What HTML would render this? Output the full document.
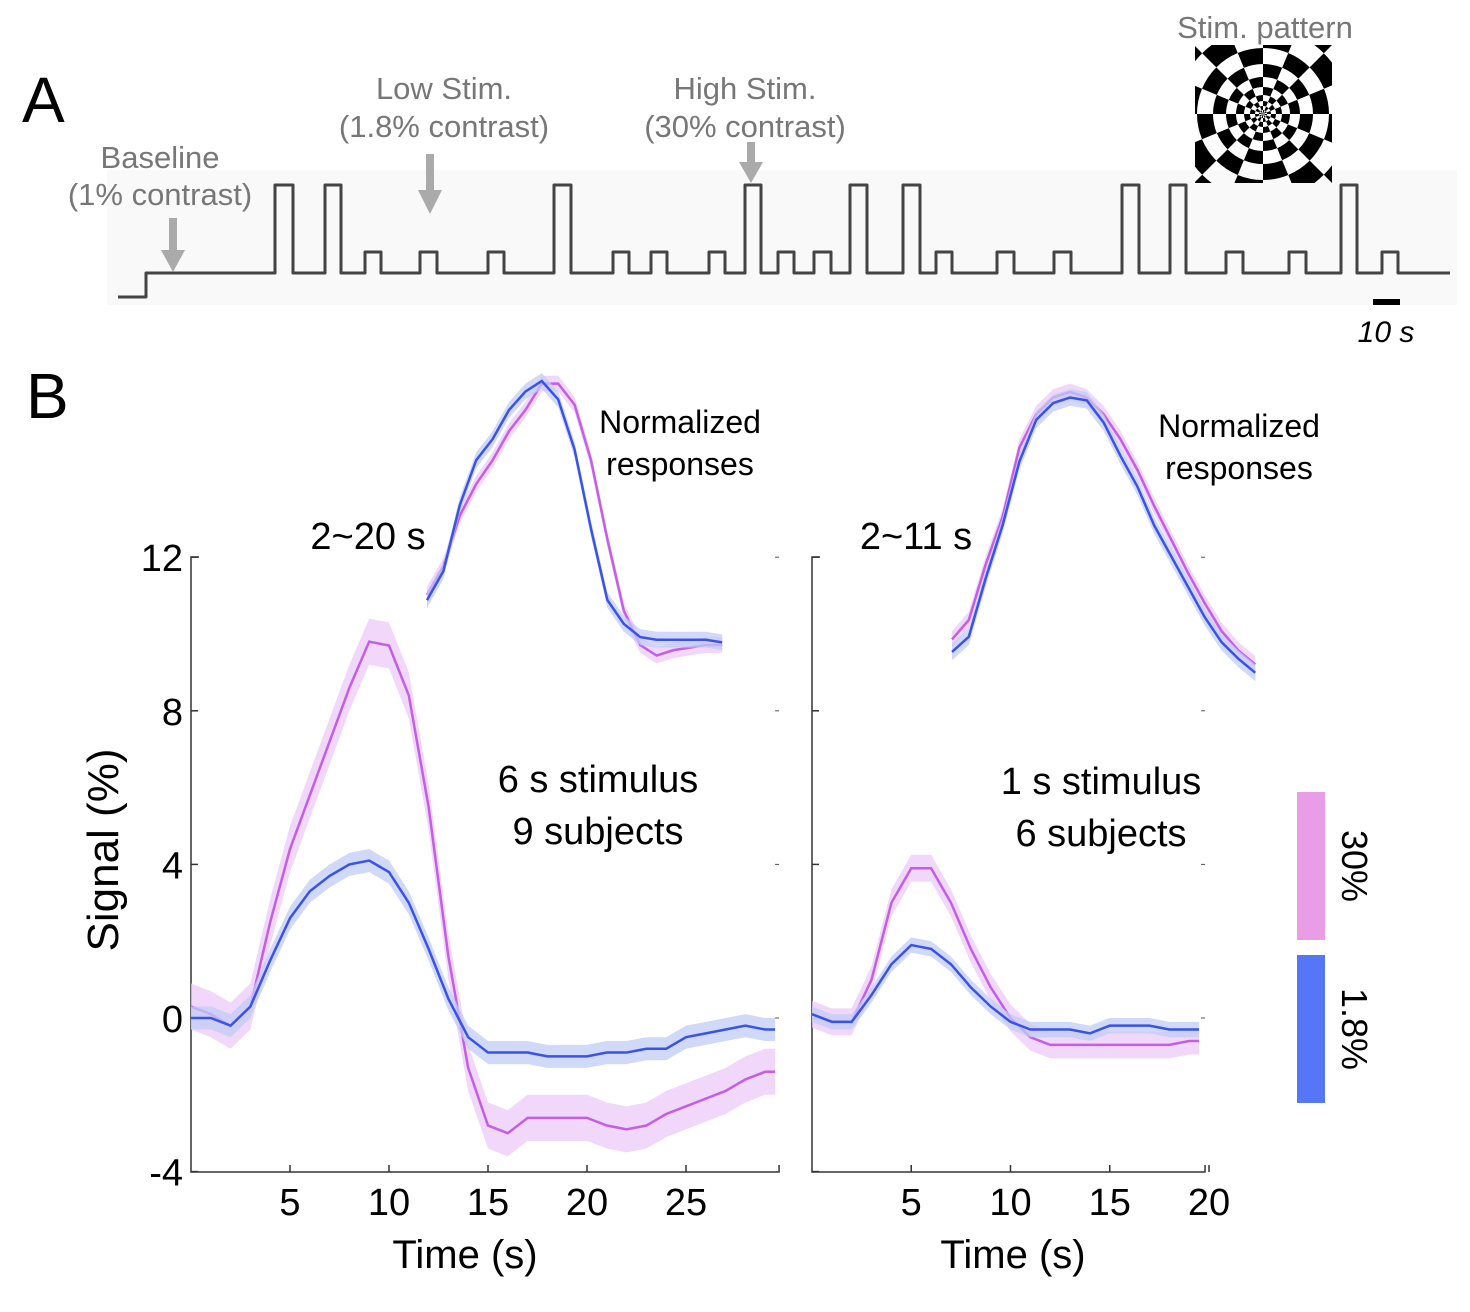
<!DOCTYPE html>
<html><head><meta charset="utf-8"><style>
body{margin:0;background:#fff;}
svg{display:block;font-family:"Liberation Sans",Arial,sans-serif;}
</style></head><body>
<svg id="fig" width="1470" height="1312" viewBox="0 0 1470 1312">
<defs><clipPath id="sq"><rect x="1195" y="45" width="137" height="138"/></clipPath></defs>
<text x="22" y="122" font-size="64">A</text>
<text x="26" y="418" font-size="64">B</text>
<rect x="107" y="170" width="1350" height="135" fill="#f9f9f9"/>
<g id="protocol"></g>
<g fill="#777" font-size="31" text-anchor="middle">
<text x="160" y="168">Baseline</text>
<text x="160" y="205">(1% contrast)</text>
<text x="444" y="99">Low Stim.</text>
<text x="444" y="137">(1.8% contrast)</text>
<text x="745" y="99">High Stim.</text>
<text x="745" y="137">(30% contrast)</text>
<text x="1265" y="38">Stim. pattern</text>
</g>
<g fill="#aaa" stroke="none">
<rect x="169" y="218" width="8" height="36"/><polygon points="161,250 185,250 173,272"/>
<rect x="426" y="154" width="8" height="40"/><polygon points="418,190 442,190 430,214"/>
<rect x="747" y="142" width="8" height="22"/><polygon points="739,162 763,162 751,183"/>
</g>
<g id="checker" clip-path="url(#sq)"></g>
<rect x="1373" y="299" width="27" height="6" fill="#000"/>
<text x="1386" y="342" font-size="30" font-style="italic" text-anchor="middle">10 s</text>
<g id="left"></g>
<g id="right"></g>
<text transform="translate(118,850) rotate(-90)" font-size="44" text-anchor="middle">Signal (%)</text>
<text x="465" y="1268" font-size="40" text-anchor="middle">Time (s)</text>
<text x="1013" y="1268" font-size="40" text-anchor="middle">Time (s)</text>
<text x="368" y="549" font-size="38" text-anchor="middle">2~20 s</text>
<text x="916" y="549" font-size="38" text-anchor="middle">2~11 s</text>
<g font-size="32" text-anchor="middle">
<text x="680" y="433">Normalized</text>
<text x="680" y="475">responses</text>
<text x="1239" y="437">Normalized</text>
<text x="1239" y="479">responses</text>
</g>
<g font-size="38" text-anchor="middle">
<text x="598" y="792">6 s stimulus</text>
<text x="598" y="844">9 subjects</text>
<text x="1101" y="794">1 s stimulus</text>
<text x="1101" y="846">6 subjects</text>
</g>
<rect x="1297" y="792" width="28" height="148" fill="#e89de6"/>
<rect x="1297" y="955" width="28" height="148" fill="#5577f7"/>
<text transform="translate(1342,866) rotate(90)" font-size="36" text-anchor="middle">30%</text>
<text transform="translate(1342,1029) rotate(90)" font-size="36" text-anchor="middle">1.8%</text>
</svg>
<script>
const NS="http://www.w3.org/2000/svg";
const pulseStarts=[275,325,365,420,488,554,613,651,709,745,778,814,850,903,936,997,1054,1122,1170,1226,1289,1341,1382];
const pulseEnds=[293,341,381,437,504,571,629,667,725,761,794,831,867,920,952,1014,1071,1139,1186,1243,1306,1357,1398];
const pulseHigh=[1,1,0,0,0,1,0,0,0,1,0,0,1,1,0,0,0,1,1,0,0,1,0];
const leftTimes=[0,1,2,3,4,5,6,7,8,9,10,11,12,13,14,15,16,17,18,19,20,21,22,23,24,25,26,27,28,29,29.5];
const leftHigh=[0.3,0.1,-0.2,0.3,2.5,4.4,5.8,7.2,8.6,9.8,9.7,8.4,5.5,1.6,-1.3,-2.8,-3.0,-2.6,-2.6,-2.6,-2.6,-2.8,-2.9,-2.8,-2.5,-2.3,-2.1,-1.9,-1.6,-1.4,-1.4];
const leftLow=[0,0,-0.2,0.3,1.5,2.6,3.3,3.7,4.0,4.1,3.8,3.0,1.8,0.5,-0.5,-0.9,-0.9,-0.9,-1.0,-1.0,-1.0,-0.9,-0.9,-0.8,-0.8,-0.5,-0.4,-0.3,-0.2,-0.3,-0.3];
const rightTimes=[0,1,2,3,4,5,6,7,8,9,10,11,12,13,14,15,16,17,18,19,19.5];
const rightHigh=[0.1,-0.1,-0.1,1.0,3.0,3.9,3.9,3.0,1.8,0.8,0.0,-0.5,-0.7,-0.7,-0.7,-0.7,-0.7,-0.7,-0.7,-0.6,-0.6];
const rightLow=[0.1,-0.1,-0.1,0.6,1.4,1.9,1.8,1.4,0.8,0.3,-0.1,-0.3,-0.3,-0.3,-0.4,-0.2,-0.2,-0.2,-0.3,-0.3,-0.3];
const insetTimes=[2,3,4,5,6,7,8,9,10,11,12,13,14,15,16,17,18,19,20];
const leftInsetHigh=[0.19,0.30,0.49,0.61,0.70,0.81,0.89,0.99,0.99,0.91,0.70,0.40,0.13,0,-0.04,-0.02,-0.01,0,0];
const leftInsetLow=[0.17,0.28,0.53,0.70,0.78,0.89,0.96,1.0,0.93,0.74,0.44,0.17,0.08,0.03,0.02,0.02,0.02,0.02,0.01];
const rightInsetHigh=[0.11,0.18,0.38,0.55,0.80,0.92,0.98,1.0,0.98,0.92,0.83,0.72,0.59,0.47,0.35,0.24,0.14,0.07,0.02];
const rightInsetLow=[0.065,0.12,0.33,0.52,0.75,0.90,0.96,0.98,0.97,0.89,0.77,0.66,0.52,0.41,0.30,0.19,0.10,0.04,-0.01];
const yTicks=[12,8,4,0,-4];
const leftXTicks=[5,10,15,20,25];
const rightXTicks=[5,10,15,20];

function el(tag,attrs,parent){const e=document.createElementNS(NS,tag);for(const k in attrs)e.setAttribute(k,attrs[k]);parent.appendChild(e);return e;}

const prot=document.getElementById('protocol');
let d="M118,297 L146,297 L146,273";
for(let i=0;i<pulseStarts.length;i++){const top=pulseHigh[i]?185:252;d+=` L${pulseStarts[i]},273 L${pulseStarts[i]},${top} L${pulseEnds[i]},${top} L${pulseEnds[i]},273`;}
d+=" L1450,273";
const pp=el('path',{d:d,fill:'none',stroke:'#444','stroke-width':3,'stroke-linejoin':'round'},prot);



const ch=document.getElementById('checker');
const cx=1263,cy=114,nS=16;
const radii=[0,4,8,13,19,27,37,50,66,86,110];
for(let r=0;r<radii.length-1;r++){for(let s=0;s<nS;s++){
 if((r+s)%2)continue;
 const a0=2*Math.PI*s/nS,a1=2*Math.PI*(s+1)/nS,r0=radii[r],r1=radii[r+1];
 const p=`M${cx+r0*Math.cos(a0)},${cy+r0*Math.sin(a0)} L${cx+r1*Math.cos(a0)},${cy+r1*Math.sin(a0)} A${r1},${r1} 0 0 1 ${cx+r1*Math.cos(a1)},${cy+r1*Math.sin(a1)} L${cx+r0*Math.cos(a1)},${cy+r0*Math.sin(a1)} A${r0},${r0} 0 0 0 ${cx+r0*Math.cos(a0)},${cy+r0*Math.sin(a0)}Z`;
 const c=el('path',{d:p,fill:'#000'},ch);
 
 
}}

const Y=v=>1018-v*38.4;
function series(g,times,vals,xf,yf,band,line,bw,name){
 const up=times.map((t,i)=>[xf(t),yf(vals[i]+bw)]),dn=times.map((t,i)=>[xf(t),yf(vals[i]-bw)]).reverse();
 const b=el('path',{d:'M'+up.concat(dn).map(p=>p.join(',')).join(' L')+'Z',fill:band,opacity:0.75},g);
 
 
 const l=el('path',{d:'M'+times.map((t,i)=>xf(t)+','+yf(vals[i])).join(' L'),fill:'none',stroke:line,'stroke-width':2.5},g);
 
 
}
function chart(id,x0,xpx,xmax,xt,times,hi,lo,itimes,ih,ilo,ix0,ipx,iy0,iy1,right,bwH,bwL){
 const g=document.getElementById(id);
 const X=t=>x0+t*xpx;
 const ax=el('path',{d:`M${x0+8},557 L${x0},557 L${x0},1172 L${X(xmax)},1172 L${X(xmax)},1165`,fill:'none',stroke:'#333','stroke-width':1.5},g);
 
 
 yTicks.forEach(v=>{el('line',{x1:x0,x2:x0+7,y1:Y(v),y2:Y(v),stroke:'#333','stroke-width':1.5},g);
  if(!right){const t=el('text',{x:x0-8,y:Y(v)+14,'font-size':38,'text-anchor':'end'},g);t.textContent=v;
   
   }
  el('line',{x1:X(xmax)-4,x2:X(xmax),y1:Y(v),y2:Y(v),stroke:'#555','stroke-width':1},g);});
 xt.forEach(v=>{el('line',{x1:X(v),x2:X(v),y1:1172,y2:1165,stroke:'#333','stroke-width':1.5},g);
  const t=el('text',{x:X(v),y:1215,'font-size':38,'text-anchor':'middle'},g);t.textContent=v;
  
  });
 series(g,times,hi,X,Y,'#ecc9f7','#c35ee6',bwH,'high-contrast');
 series(g,times,lo,X,Y,'#c2ccf6','#3a52ea',bwL,'low-contrast');
 const IX=t=>ix0+(t-2)*ipx, IY=v=>iy0-v*(iy0-iy1);
 series(g,itimes,ih,IX,IY,'#ecc9f7','#c35ee6',0.03,'inset-high');
 series(g,itimes,ilo,IX,IY,'#c2ccf6','#3a52ea',0.03,'inset-low');
}
chart('left',191,19.8,29.7,leftXTicks,leftTimes,leftHigh,leftLow,insetTimes,leftInsetHigh,leftInsetLow,427,16.4,645,381,false,0.6,0.3);
chart('right',812,19.85,19.8,rightXTicks,rightTimes,rightHigh,rightLow,insetTimes,rightInsetHigh,rightInsetLow,952,16.85,670,392,true,0.35,0.2);
</script>
</body></html>
